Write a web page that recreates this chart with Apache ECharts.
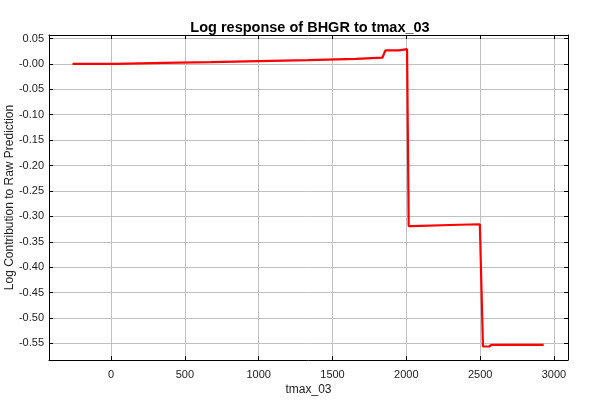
<!DOCTYPE html>
<html>
<head>
<meta charset="utf-8">
<script src="https://cdn.jsdelivr.net/npm/echarts@6/dist/echarts.min.js"></script>
<style>html,body{margin:0;padding:0;background:#fff}#c{width:600px;height:400px}</style>
</head>
<body>
<div id="c"></div>
<script>
const titleText = 'Log response of BHGR to tmax_03';
const xName = 'tmax_03';
const yName = 'Log Contribution to Raw Prediction';
const xValues = [-261, 35, 40, 360, 365, 676, 681, 1003, 1008, 1335, 1340, 1658, 1663, 1838, 1858, 1950, 1955, 2005, 2016, 2035, 2045, 2358, 2363, 2498, 2519, 2560, 2576, 2930];
const yValues = [0.000, 0.000, 0.0022, 0.0022, 0.0035, 0.0035, 0.0055, 0.0055, 0.0074, 0.0074, 0.0100, 0.0100, 0.0122, 0.0122, 0.0265, 0.0265, 0.0290, 0.0290, -0.319, -0.319, -0.3165, -0.3165, -0.3155, -0.3155, -0.556, -0.556, -0.553, -0.553];
const xRange = [-420, 3095];
const yRange = [-0.5826, 0.0569];

const font = '"Liberation Sans", Arial, sans-serif';
const points = xValues.map((x, i) => [x, yValues[i]]);
const fmtY = v => (v <= 0 ? '-' + Math.abs(v).toFixed(2) : v.toFixed(2));
const fmtX = v => String(Math.round(v));

const baseX = {
  type: 'value', min: xRange[0], max: xRange[1], splitNumber: 7,
  axisLine: {show: true, onZero: false, lineStyle: {color: '#000', width: 1}},
  axisTick: {show: true, inside: true, length: 4, lineStyle: {color: '#000'}},
};
const baseY = {
  type: 'value', min: yRange[0], max: yRange[1], splitNumber: 12,
  axisLine: {show: true, onZero: false, lineStyle: {color: '#000', width: 1}},
  axisTick: {show: true, inside: true, length: 4, lineStyle: {color: '#000'}},
};

const chart = echarts.init(document.getElementById('c'), null, {renderer: 'canvas'});
chart.setOption({
  backgroundColor: '#fff',
  animation: false,
  title: {
    text: titleText, left: 305, top: 15, textAlign: 'center',
    textStyle: {fontFamily: font, fontSize: 14.5, fontWeight: 'bold', color: '#000'}
  },
  grid: {left: 49, right: 32, top: 35, bottom: 40, containLabel: false, outerBoundsMode: 'none'},
  xAxis: [
    Object.assign({}, baseX, {
      position: 'bottom',
      name: xName, nameLocation: 'middle', nameGap: 24, nameMoveOverlap: false,
      nameTextStyle: {fontFamily: font, fontSize: 12, color: '#222'},
      axisLabel: {show: true, margin: 9, showMinLabel: false, showMaxLabel: false,
        fontFamily: font, fontSize: 11, color: '#222', formatter: fmtX},
      splitLine: {show: true, lineStyle: {color: '#c0c0c0', width: 1}}
    }),
    Object.assign({}, baseX, {
      position: 'top',
      axisLabel: {show: false},
      splitLine: {show: false}
    })
  ],
  yAxis: [
    Object.assign({}, baseY, {
      position: 'left',
      name: yName, nameLocation: 'middle', nameGap: 33, nameMoveOverlap: false,
      nameTextStyle: {fontFamily: font, fontSize: 12, color: '#222'},
      axisLabel: {show: true, margin: 5, showMinLabel: false, showMaxLabel: false,
        fontFamily: font, fontSize: 11, color: '#222', formatter: fmtY},
      splitLine: {show: true, lineStyle: {color: '#c0c0c0', width: 1}}
    }),
    Object.assign({}, baseY, {
      position: 'right',
      axisLabel: {show: false},
      splitLine: {show: false}
    })
  ],
  series: [{
    type: 'line', xAxisIndex: 0, yAxisIndex: 0,
    data: points, showSymbol: false, symbol: 'none',
    lineStyle: {color: '#ff0000', width: 2.2},
    itemStyle: {color: '#ff0000'}
  }]
});
</script>
</body>
</html>
